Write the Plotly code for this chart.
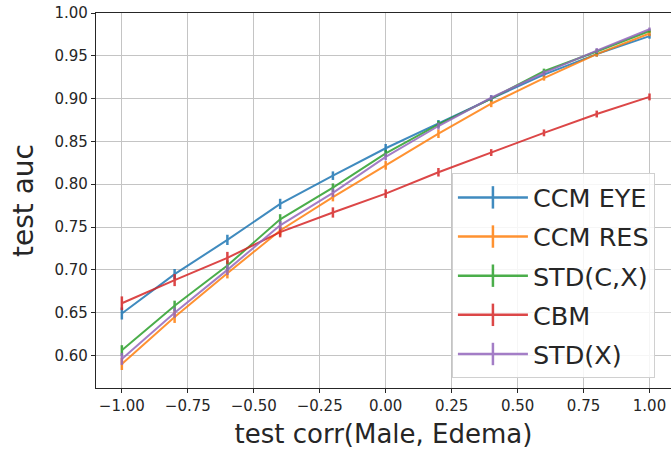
import plotly.graph_objects as go

x_vals = [-1.0, -0.8, -0.6, -0.4, -0.2, 0.0, 0.2, 0.4, 0.6, 0.8, 1.0]

ccm_eye = [0.649, 0.695, 0.735, 0.777, 0.810, 0.842, 0.871, 0.900, 0.928, 0.952, 0.973]
ccm_eye_err = [0.007, 0.006, 0.006, 0.006, 0.005, 0.005, 0.004, 0.004, 0.003, 0.003, 0.003]

ccm_res = [0.590, 0.645, 0.696, 0.746, 0.785, 0.822, 0.859, 0.894, 0.924, 0.952, 0.976]
ccm_res_err = [0.007, 0.007, 0.006, 0.006, 0.005, 0.005, 0.005, 0.004, 0.003, 0.003, 0.003]

std_cx = [0.606, 0.658, 0.705, 0.759, 0.796, 0.836, 0.870, 0.900, 0.932, 0.955, 0.979]
std_cx_err = [0.006, 0.006, 0.006, 0.006, 0.005, 0.004, 0.004, 0.003, 0.003, 0.003, 0.002]

cbm = [0.661, 0.688, 0.714, 0.744, 0.767, 0.789, 0.814, 0.837, 0.860, 0.882, 0.902]
cbm_err = [0.008, 0.007, 0.007, 0.006, 0.006, 0.005, 0.005, 0.004, 0.004, 0.004, 0.004]

std_x = [0.596, 0.650, 0.700, 0.752, 0.790, 0.832, 0.868, 0.901, 0.930, 0.956, 0.981]
std_x_err = [0.007, 0.006, 0.006, 0.005, 0.005, 0.004, 0.004, 0.003, 0.003, 0.003, 0.002]

series_names = ["CCM EYE", "CCM RES", "STD(C,X)", "CBM", "STD(X)"]
series_vals = [ccm_eye, ccm_res, std_cx, cbm, std_x]
series_errs = [ccm_eye_err, ccm_res_err, std_cx_err, cbm_err, std_x_err]
colors = ["#1f77b4", "#ff7f0e", "#2ca02c", "#d62728", "#9467bd"]

x_ticks = [-1.0, -0.75, -0.5, -0.25, 0.0, 0.25, 0.5, 0.75, 1.0]
y_ticks = [0.60, 0.65, 0.70, 0.75, 0.80, 0.85, 0.90, 0.95, 1.00]

fig = go.Figure()
for name, vals, errs, col in zip(series_names, series_vals, series_errs, colors):
    fig.add_trace(go.Scatter(
        x=x_vals, y=vals, mode="lines", name=name, showlegend=False,
        line=dict(color=col, width=2), opacity=0.85,
        error_y=dict(type="data", array=errs, visible=True, color=col, thickness=2.5, width=0),
    ))
for i, (name, col) in enumerate(zip(series_names, colors)):
    fig.add_trace(go.Scatter(
        x=[None], y=[None], mode="lines+markers", name=name, legendgroup=str(i),
        line=dict(color=col, width=2.5), opacity=0.85,
        marker=dict(symbol="line-ns-open", size=26, color=col, line=dict(color=col, width=2.5)),
    ))

font_family = "DejaVu Sans"
fig.update_layout(
    width=671, height=454,
    margin=dict(l=96, r=0, t=13, b=66),
    paper_bgcolor="white", plot_bgcolor="white",
    font=dict(family=font_family, color="#262626"),
    legend=dict(
        x=0.619, y=0.5725, xanchor="left", yanchor="top",
        font=dict(size=25.5, family=font_family, color="#262626"),
        bgcolor="rgba(255,255,255,0.85)", bordercolor="#d0d0d0", borderwidth=1,
        tracegroupgap=3, traceorder="grouped", itemwidth=70,
    ),
    showlegend=True,
)
fig.update_xaxes(
    range=[-1.098, 1.0815], tickvals=x_ticks, tickformat=".2f",
    showgrid=True, gridcolor="#c4c4c4", gridwidth=1,
    showline=True, linecolor="#262626", linewidth=1.2, mirror=True,
    ticks="outside", ticklen=4, tickcolor="#262626",
    tickfont=dict(size=15, family=font_family, color="#262626"),
    zeroline=False,
    title=dict(text="test corr(Male, Edema)", font=dict(size=26, family=font_family, color="#262626"), standoff=10),
)
fig.update_yaxes(
    range=[0.562, 1.0], tickvals=y_ticks, tickformat=".2f",
    showgrid=True, gridcolor="#c4c4c4", gridwidth=1,
    showline=True, linecolor="#262626", linewidth=1.2, mirror=False,
    ticks="outside", ticklen=4, tickcolor="#262626",
    tickfont=dict(size=15, family=font_family, color="#262626"),
    zeroline=False,
    title=dict(text="test auc", font=dict(size=28, family=font_family, color="#262626"), standoff=12),
)

fig.write_html("out.html")
